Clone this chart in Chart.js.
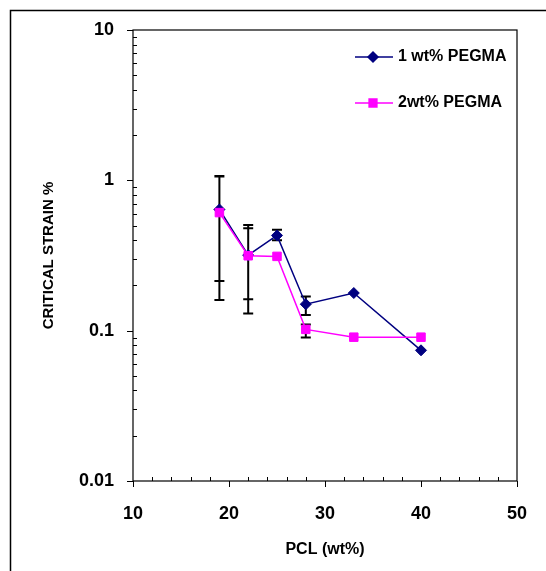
<!DOCTYPE html>
<html>
<head>
<meta charset="utf-8">
<script src="https://cdn.jsdelivr.net/npm/chart.js@4/dist/chart.umd.min.js"></script>
<style>
  html, body { margin: 0; padding: 0; background: #fff; }
  #wrap { width: 546px; height: 571px; }
</style>
</head>
<body>
<div id="wrap"><canvas id="strainChart" width="546" height="571"></canvas></div>
<script>
// PCL content (wt%)
const pcl = [19, 22, 25, 28, 33, 40];

// critical strain %, 1 wt% PEGMA
const strain1 = [0.64, 0.318, 0.43, 0.150, 0.178, 0.074];
const err1Low = [0.214, 0.13, 0.40, 0.127, null, null];
const err1High = [1.07, 0.505, 0.47, 0.169, null, null];

// critical strain %, 2 wt% PEGMA
const strain2 = [0.61, 0.315, 0.312, 0.102, 0.0905, 0.0905];
const err2Low = [0.16, 0.162, null, 0.09, null, null];
const err2High = [1.06, 0.48, null, 0.11, null, null];

const yLabels = [0.01, 0.1, 1, 10];
const xMajor = [10, 20, 30, 40, 50];

const FONT = "'Liberation Sans', Arial, sans-serif";

// outer frame + white bg
const framePlugin = {
    id: 'frame',
    beforeDraw(chart) {
        const c = chart.ctx;
        c.save();
        c.fillStyle = '#fff';
        c.fillRect(0, 0, chart.width, chart.height);
        c.strokeStyle = '#000';
        c.lineWidth = 1.5;
        c.strokeRect(10.5, 10.5, chart.width + 20, chart.height + 20);
        c.restore();
    },
    afterDraw(chart) {
        // plot box + tick marks
        const c = chart.ctx;
        const a = chart.chartArea;
        const xs = chart.scales.x, ys = chart.scales.y;
        c.save();
        c.strokeStyle = '#000';
        c.lineWidth = 1.2;
        c.strokeRect(a.left, a.top, a.right - a.left, a.bottom - a.top);
        c.lineWidth = 1;
        c.beginPath();
        for (let v = 12; v < 50; v += 2) {
            if (v % 10 === 0) continue;
            const px = Math.round(xs.getPixelForValue(v)) + 0.5;
            c.moveTo(px, a.bottom); c.lineTo(px, a.bottom - 4);
        }
        xMajor.forEach(v => {
            const px = Math.round(xs.getPixelForValue(v)) + 0.5;
            c.moveTo(px, a.bottom); c.lineTo(px, a.bottom + 6);
        });
        for (let d = 0.01; d < 10; d *= 10) {
            for (let k = 2; k <= 9; k++) {
                const py = Math.round(ys.getPixelForValue(d * k)) + 0.5;
                c.moveTo(a.left, py); c.lineTo(a.left + 4, py);
            }
        }
        yLabels.forEach(v => {
            const py = Math.round(ys.getPixelForValue(v)) + 0.5;
            c.moveTo(a.left - 6, py); c.lineTo(a.left, py);
        });
        c.stroke();

        // legend inside plot
        const items = [
            { label: '1 wt% PEGMA', color: '#000080', style: 'rectRot', r: 5, y: a.top + 27 },
            { label: '2wt% PEGMA', color: '#FF00FF', style: 'rect', r: 5.5, y: a.top + 73 }
        ];
        const lx = a.left + 222;
        items.forEach(it => {
            c.strokeStyle = it.color;
            c.lineWidth = 1.5;
            c.beginPath();
            c.moveTo(lx, it.y); c.lineTo(lx + 38, it.y);
            c.stroke();
            c.fillStyle = it.color;
            Chart.helpers.drawPoint(c, {
                pointStyle: it.style, radius: it.r, borderWidth: 1, rotation: 0
            }, lx + 18, it.y);
            c.fill();
            c.fillStyle = '#000';
            c.font = 'bold 16px ' + FONT;
            c.textBaseline = 'middle';
            c.textAlign = 'left';
            c.fillText(it.label, lx + 43, it.y);
        });
        c.restore();
    }
};

// error bars, drawn under the series
const errorBarPlugin = {
    id: 'errorBars',
    beforeDatasetsDraw(chart) {
        const c = chart.ctx;
        const xs = chart.scales.x, ys = chart.scales.y;
        const sets = [[err1Low, err1High], [err2Low, err2High]];
        c.save();
        c.strokeStyle = '#000';
        c.lineWidth = 2;
        c.beginPath();
        sets.forEach(([lo, hi]) => {
            pcl.forEach((x, i) => {
                if (lo[i] == null) return;
                const px = xs.getPixelForValue(x);
                const y1 = ys.getPixelForValue(lo[i]);
                const y2 = ys.getPixelForValue(hi[i]);
                c.moveTo(px, y1); c.lineTo(px, y2);
                c.moveTo(px - 5, y1); c.lineTo(px + 5, y1);
                c.moveTo(px - 5, y2); c.lineTo(px + 5, y2);
            });
        });
        c.stroke();
        c.restore();
    }
};

const ctx = document.getElementById('strainChart').getContext('2d');
new Chart(ctx, {
    type: 'line',
    data: {
        datasets: [
            {
                label: '1 wt% PEGMA',
                data: pcl.map((x, i) => ({ x: x, y: strain1[i] })),
                borderColor: '#000080',
                backgroundColor: '#000080',
                borderWidth: 1.5,
                pointStyle: 'rectRot',
                pointRadius: 5.5,
                pointBorderWidth: 1,
                tension: 0,
                order: 1
            },
            {
                label: '2wt% PEGMA',
                data: pcl.map((x, i) => ({ x: x, y: strain2[i] })),
                borderColor: '#FF00FF',
                backgroundColor: '#FF00FF',
                borderWidth: 1.5,
                pointStyle: 'rect',
                pointRadius: 6,
                pointBorderWidth: 1,
                tension: 0,
                order: 0
            }
        ]
    },
    options: {
        responsive: false,
        animation: false,
        layout: { padding: { left: 0, right: 29, top: 30, bottom: 0 } },
        plugins: { legend: { display: false }, tooltip: { enabled: false } },
        scales: {
            x: {
                type: 'linear',
                min: 10, max: 50,
                grid: { display: false, drawTicks: false },
                border: { display: false },
                ticks: {
                    stepSize: 10, padding: 22,
                    color: '#000', font: { family: FONT, size: 18, weight: 'bold' }
                },
                title: {
                    display: true, text: 'PCL (wt%)', color: '#000',
                    font: { family: FONT, size: 16, weight: 'bold' },
                    padding: { top: 0, bottom: 12 }
                },
                afterFit(scale) {
                    scale.height = 90;
                    scale.paddingLeft = 0;
                    scale.paddingRight = 0;
                }
            },
            y: {
                type: 'logarithmic',
                min: 0.01, max: 10,
                grid: { display: false, drawTicks: false },
                border: { display: false },
                ticks: {
                    autoSkip: false, padding: 19,
                    color: '#000', font: { family: FONT, size: 18, weight: 'bold' },
                    callback: v => yLabels.includes(Number(v.toPrecision(3))) ? String(Number(v.toPrecision(3))) : ''
                },
                title: {
                    display: true, text: 'CRITICAL STRAIN %', color: '#000',
                    font: { family: FONT, size: 15, weight: 'bold' },
                    padding: { top: 40, bottom: 0 }
                },
                afterFit(scale) { scale.width = 133; }
            }
        }
    },
    plugins: [framePlugin, errorBarPlugin]
});
</script>
</body>
</html>
